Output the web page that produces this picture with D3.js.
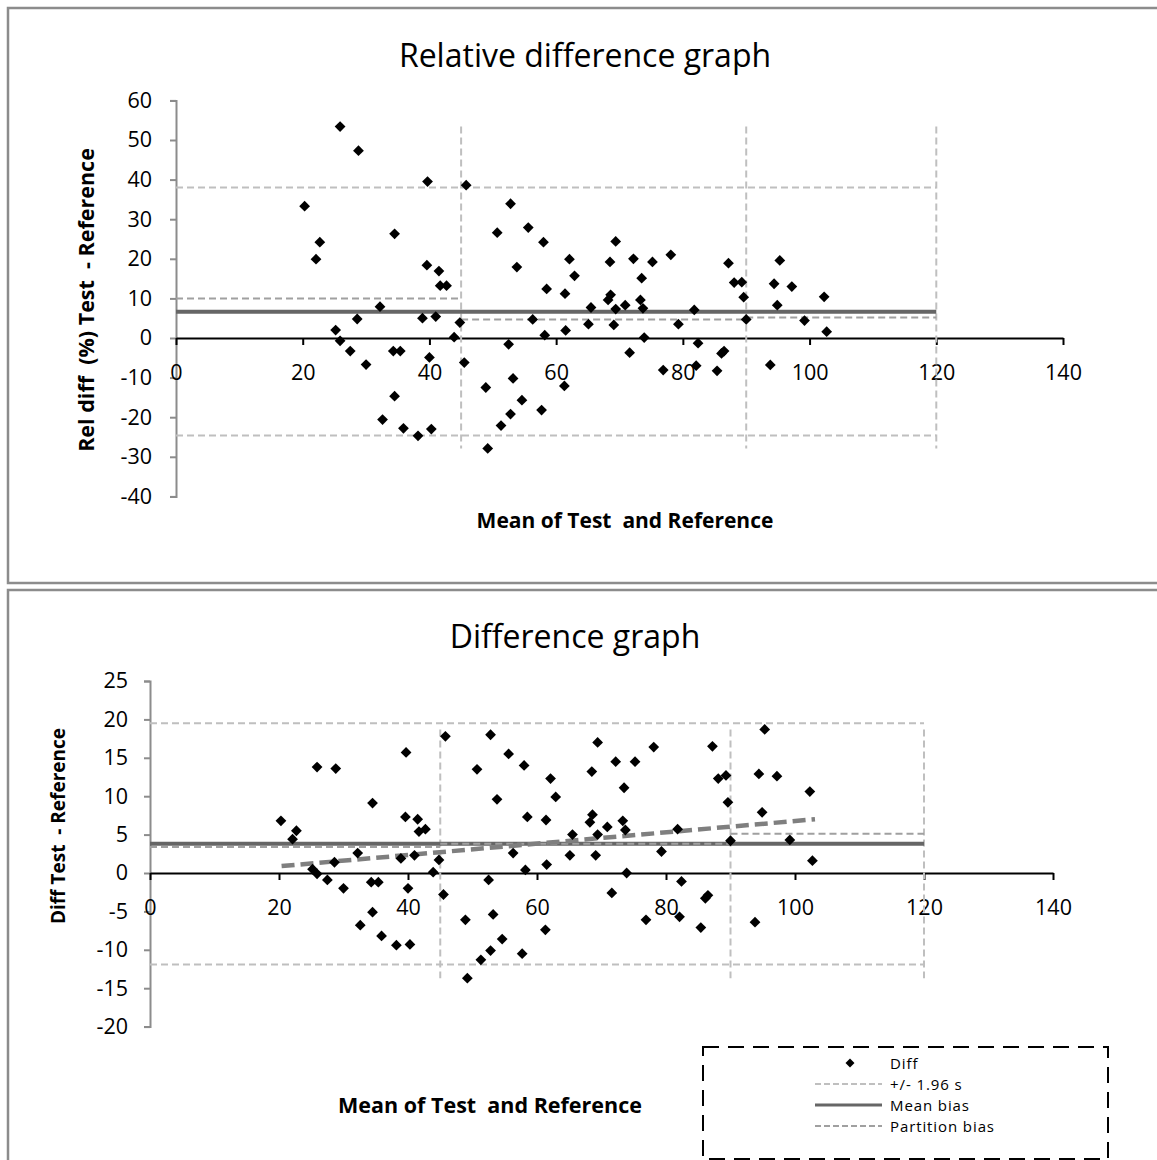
<!DOCTYPE html>
<html>
<head>
<meta charset="utf-8">
<script src="https://cdn.jsdelivr.net/npm/d3@7"></script>
<style>
  body { margin: 0; background: #fff; }
  svg { display: block; font-family: 'Open Sans', sans-serif; }
  text { white-space: pre; }
</style>
</head>
<body>
<svg id="chart" width="1157" height="1160"></svg>
<script>
// Mean of Test and Reference (x)
const mean_values = [20.3, 22.1, 22.7, 25.2, 25.9, 25.9, 27.5, 28.6, 28.8, 30.0,
    32.2, 32.6, 34.3, 34.5, 34.5, 35.4, 35.9, 38.2, 38.9, 39.6,
    39.7, 40.0, 40.3, 41.0, 41.5, 41.7, 42.7, 43.9, 44.8, 45.5,
    45.8, 48.9, 49.2, 50.7, 51.3, 52.5, 52.8, 52.8, 53.2, 53.8,
    54.6, 55.6, 56.3, 57.7, 58.0, 58.2, 58.5, 61.3, 61.4, 61.5,
    62.1, 62.9, 65.1, 65.5, 68.2, 68.5, 68.6, 69.1, 69.4, 69.4,
    70.9, 71.6, 72.2, 73.3, 73.5, 73.7, 73.9, 75.2, 76.9, 78.1,
    79.3, 81.8, 82.1, 82.4, 85.4, 86.1, 86.5, 87.2, 88.1, 89.3,
    89.6, 90.0, 93.8, 94.4, 94.9, 95.3, 97.2, 99.2, 102.3, 102.7]

// Relative difference (%)
const rel_diff_values = [33.3, 19.9, 24.2, 2.0, 53.4, -0.7, -3.3, 4.8, 47.3, -6.7,
    7.9, -20.6, -3.3, 26.3, -14.7, -3.3, -22.8, -24.7, 5.0, 18.4,
    39.5, -4.9, -23.0, 5.4, 16.9, 13.2, 13.2, 0.2, 3.9, -6.2,
    38.6, -12.5, -27.9, 26.6, -22.1, -1.6, 33.9, -19.2, -10.2, 17.9,
    -15.7, 27.9, 4.7, -18.2, 24.2, 0.7, 12.4, -12.1, 11.2, 1.9,
    19.9, 15.7, 3.5, 7.7, 9.6, 19.2, 10.9, 3.3, 24.4, 7.3,
    8.3, -3.7, 20.0, 9.6, 15.1, 7.5, 0.1, 19.2, -8.1, 21.0,
    3.5, 7.1, -7.0, -1.3, -8.3, -3.9, -3.3, 18.9, 14.0, 14.1,
    10.3, 4.7, -6.8, 13.7, 8.3, 19.6, 13.0, 4.4, 10.4, 1.6]

// Difference Test - Reference
const diff_values = [6.8, 4.4, 5.5, 0.5, 13.8, -0.1, -0.9, 1.4, 13.6, -2.0,
    2.6, -6.8, -1.2, 9.1, -5.1, -1.2, -8.2, -9.4, 1.9, 7.3,
    15.7, -2.0, -9.3, 2.3, 7.0, 5.4, 5.7, 0.1, 1.7, -2.8,
    17.8, -6.1, -13.7, 13.5, -11.3, -0.9, 18.0, -10.1, -5.4, 9.6,
    -8.6, 15.5, 2.6, -10.5, 14.0, 0.4, 7.3, -7.4, 6.9, 1.1,
    12.3, 9.9, 2.3, 5.0, 6.6, 13.2, 7.6, 2.3, 17.0, 5.0,
    6.0, -2.6, 14.5, 6.8, 11.1, 5.6, 0.0, 14.5, -6.1, 16.4,
    2.8, 5.7, -5.7, -1.1, -7.1, -3.3, -2.9, 16.5, 12.3, 12.7,
    9.2, 4.2, -6.4, 12.9, 7.9, 18.7, 12.6, 4.3, 10.6, 1.6]

const x_ticks = [0, 20, 40, 60, 80, 100, 120, 140]
const rel_y_ticks = [-40, -30, -20, -10, 0, 10, 20, 30, 40, 50, 60]
const diff_y_ticks = [-20, -15, -10, -5, 0, 5, 10, 15, 20, 25]

const partitions = [0, 45, 90, 120]

const rel_limits = [38.0, -24.6]
const rel_mean_bias = 6.6
const rel_partition_bias = [10.0, 4.7, 5.2]

const diff_limits = [19.5, -11.9]
const diff_mean_bias = 3.8
const diff_partition_bias = [3.4, 3.8, 5.1]
const diff_trend_x = [20.4, 103.1]
const diff_trend_y = [0.9, 7.0]

const legend_labels = ['Diff', '+/- 1.96 s', 'Mean bias', 'Partition bias']

const limit_color = '#bfbfbf'
const partition_color = '#a0a0a0'
const mean_color = '#666666'

const svg = d3.select('#chart')

// frames around the two charts
svg.append('rect').attr('x', 8).attr('y', 8).attr('width', 1170).attr('height', 575)
    .attr('fill', 'none').attr('stroke', '#8c8c8c').attr('stroke-width', 2.5)
svg.append('rect').attr('x', 8).attr('y', 590).attr('width', 1170).attr('height', 600)
    .attr('fill', 'none').attr('stroke', '#8c8c8c').attr('stroke-width', 2.5)

const make_chart = (opts) => {

    const g = svg.append('g')
    const x = d3.scaleLinear().domain([0, 140]).range(opts.x_range)
    const y = d3.scaleLinear().domain(opts.y_domain).range(opts.y_range)
    const values = opts.values

    // title
    g.append('text')
        .attr('x', opts.title_pos[0]).attr('y', opts.title_pos[1])
        .attr('text-anchor', 'middle')
        .attr('font-size', 32)
        .text(opts.title)

    // y axis
    const yAxis = g.append('g')
        .attr('transform', `translate(${x(0)},0)`)
        .call(d3.axisLeft(y).tickValues(opts.y_ticks).tickSize(6).tickPadding(opts.y_pad).tickFormat(d => String(d)))
    yAxis.select('.domain').attr('stroke', '#8c8c8c').attr('stroke-width', 2)
    yAxis.selectAll('.tick line').attr('stroke', '#8c8c8c').attr('stroke-width', 2)
    yAxis.selectAll('.tick text').attr('font-size', 21.5).attr('font-family', 'Open Sans').attr('fill', '#000')

    // x axis through zero
    const xAxis = g.append('g')
        .attr('transform', `translate(0,${y(0)})`)
        .call(d3.axisBottom(x).tickValues(x_ticks).tickSize(7).tickSizeOuter(0).tickPadding(opts.x_pad).tickFormat(d => String(d)))
    xAxis.select('.domain').attr('stroke', '#000').attr('stroke-width', 2)
    xAxis.selectAll('.tick line').attr('stroke', '#000').attr('stroke-width', 2)
    xAxis.selectAll('.tick text').attr('font-size', 21.5).attr('font-family', 'Open Sans').attr('fill', '#000')

    // limits of agreement
    opts.limits.forEach(v => {
        g.append('line')
            .attr('x1', x(partitions[0])).attr('x2', x(partitions[3]))
            .attr('y1', y(v)).attr('y2', y(v))
            .attr('stroke', limit_color).attr('stroke-width', 2)
            .attr('stroke-dasharray', '7,4')
    })

    // partition borders span the data range
    const ext = d3.extent(values)
    partitions.slice(1).forEach(p => {
        g.append('line')
            .attr('x1', x(p)).attr('x2', x(p))
            .attr('y1', y(ext[1])).attr('y2', y(ext[0]))
            .attr('stroke', limit_color).attr('stroke-width', 2)
            .attr('stroke-dasharray', '7,4')
    })

    // mean bias
    g.append('line')
        .attr('x1', x(partitions[0])).attr('x2', x(partitions[3]))
        .attr('y1', y(opts.mean_bias)).attr('y2', y(opts.mean_bias))
        .attr('stroke', mean_color).attr('stroke-width', 4)

    // partition bias
    opts.partition_bias.forEach((v, i) => {
        g.append('line')
            .attr('x1', x(partitions[i])).attr('x2', x(partitions[i + 1]))
            .attr('y1', y(v)).attr('y2', y(v))
            .attr('stroke', partition_color).attr('stroke-width', 2)
            .attr('stroke-dasharray', '7,4')
    })

    if (opts.trend_x) {
        const line = d3.line().x(d => x(d[0])).y(d => y(d[1]))
        g.append('path')
            .datum(opts.trend_x.map((d, i) => [d, opts.trend_y[i]]))
            .attr('fill', 'none')
            .attr('stroke', '#7f7f7f')
            .attr('stroke-width', 4.5)
            .attr('stroke-dasharray', '13,6')
            .attr('d', line)
    }

    // points
    const diamond = d3.symbol(d3.symbolSquare, 58)
    g.append('g')
        .selectAll('path')
        .data(mean_values)
        .join('path')
        .attr('transform', (d, i) => `translate(${x(d)},${y(values[i])}) rotate(45)`)
        .attr('d', diamond)
        .attr('fill', '#000')

    // axis titles
    g.append('text')
        .attr('x', opts.x_title_pos[0]).attr('y', opts.x_title_pos[1])
        .attr('text-anchor', 'middle')
        .attr('dominant-baseline', 'central')
        .attr('font-size', opts.x_title_size).attr('font-weight', 'bold')
        .text('Mean of Test  and Reference')
    g.append('text')
        .attr('transform', `translate(${opts.y_title_pos[0]},${opts.y_title_pos[1]}) rotate(-90)`)
        .attr('text-anchor', 'middle')
        .attr('dominant-baseline', 'central')
        .attr('font-size', opts.y_title_size).attr('font-weight', 'bold')
        .text(opts.y_title)
}

make_chart({
    title: 'Relative difference graph',
    title_pos: [585, 67],
    x_range: [176, 1063],
    y_domain: [-40, 60],
    y_range: [496.4, 100.4],
    y_ticks: rel_y_ticks,
    y_pad: 18,
    x_pad: 20,
    values: rel_diff_values,
    limits: rel_limits,
    mean_bias: rel_mean_bias,
    partition_bias: rel_partition_bias,
    x_title_pos: [625, 520],
    x_title_size: 21,
    y_title_pos: [85, 300],
    y_title_size: 21.5,
    y_title: 'Rel diff  (%) Test  - Reference'
})

make_chart({
    title: 'Difference graph',
    title_pos: [575, 648],
    x_range: [150, 1053],
    y_domain: [-20, 25],
    y_range: [1026.6, 681],
    y_ticks: diff_y_ticks,
    y_pad: 16,
    x_pad: 20,
    values: diff_values,
    limits: diff_limits,
    mean_bias: diff_mean_bias,
    partition_bias: diff_partition_bias,
    trend_x: diff_trend_x,
    trend_y: diff_trend_y,
    x_title_pos: [490, 1104],
    x_title_size: 21.5,
    y_title_pos: [58, 826],
    y_title_size: 19,
    y_title: 'Diff Test  - Reference'
})

// legend
const legend = svg.append('g')
legend.append('rect')
    .attr('x', 703).attr('y', 1047).attr('width', 405).attr('height', 112)
    .attr('fill', '#fff').attr('stroke', '#000').attr('stroke-width', 2)
    .attr('stroke-dasharray', '16,9')

const legend_y = d3.scalePoint().domain(legend_labels).range([1063, 1126])
legend.append('path')
    .attr('transform', `translate(850,${legend_y('Diff')}) rotate(45)`)
    .attr('d', d3.symbol(d3.symbolSquare, 40))
    .attr('fill', '#000')
const legend_styles = [null,
    { stroke: limit_color, width: 2, dash: '6,3' },
    { stroke: mean_color, width: 3, dash: null },
    { stroke: partition_color, width: 2, dash: '6,3' }]
legend_labels.forEach((label, i) => {
    const s = legend_styles[i]
    if (s) {
        legend.append('line')
            .attr('x1', 815).attr('x2', 882)
            .attr('y1', legend_y(label)).attr('y2', legend_y(label))
            .attr('stroke', s.stroke).attr('stroke-width', s.width)
            .attr('stroke-dasharray', s.dash)
    }
    legend.append('text')
        .attr('x', 890).attr('y', legend_y(label))
        .attr('dominant-baseline', 'central')
        .attr('font-size', 15)
        .attr('letter-spacing', 0.9)
        .text(label)
})
</script>
</body>
</html>
